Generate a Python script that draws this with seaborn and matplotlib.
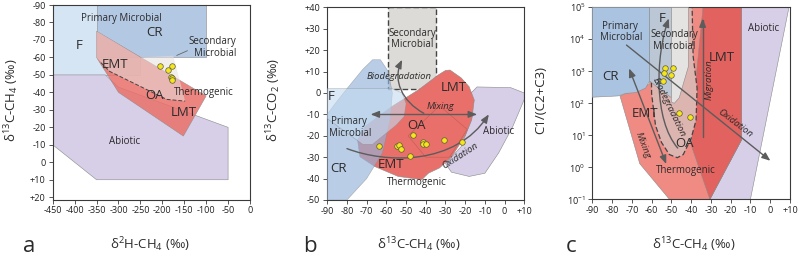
import numpy as np
import pandas as pd
import matplotlib
matplotlib.use('Agg')
import matplotlib.pyplot as plt
from matplotlib.patches import Polygon, FancyArrowPatch
from matplotlib.path import Path
import seaborn as sns

# ---------------- panel a: d2H-CH4 vs d13C-CH4 ----------------
a_dD = [-205, -186, -177, -180, -179, -177]
a_d13C = [-55, -53, -55, -49, -48, -47]

a_F = [(-450, -90), (-250, -90), (-250, -50), (-450, -50)]
a_CR = [(-350, -90), (-100, -90), (-100, -60), (-350, -60)]
a_abiotic = [(-450, -50), (-330, -50), (-300, -43), (-50, -20), (-50, 10), (-350, 10), (-450, -10)]
a_thermo = [(-350, -75), (-100, -38), (-152, -15), (-300, -40), (-350, -60)]
a_OA = [(-350, -75), (-250, -60), (-175, -61), (-148, -35), (-190, -36), (-320, -52), (-350, -60)]
a_OA_dash = [(-340, -57), (-320, -52), (-190, -36), (-148, -35)]

# ---------------- panel b: d13C-CH4 vs d13C-CO2 ----------------
b_ch4 = [-63.8, -54.8, -53.6, -52.4, -46.7, -48.2, -41.5, -41.2, -40.0, -30.6, -21.8]
b_co2 = [-25.0, -24.7, -24.3, -26.2, -19.6, -29.4, -22.8, -23.8, -23.8, -22.0, -22.8]

b_CR = [(-90, -50), (-80, -50), (-70, -40), (-62, -28), (-58, -12), (-57, 0), (-59, 10),
        (-63, 15.5), (-67, 15.5), (-72, 11), (-80, 2), (-86, -5), (-90, -10)]
b_F = [(-90, 2), (-57, 2), (-52, 0), (-50, -5), (-51, -11), (-55, -15), (-67, -24),
       (-72, -24), (-90, -12)]
b_secondary = [(-59, 40), (-35, 40), (-35, 2), (-59, 2)]
b_thermo = [(-27.7, 10.7), (-22, 7), (-18, 2.9), (-15.4, -3.3), (-16.7, -12.6), (-20, -20),
            (-26.9, -29.8), (-33, -35), (-38.7, -37.5), (-42, -40.5), (-54, -39), (-65.8, -34.4),
            (-73.4, -29.8), (-74.6, -22), (-70.9, -15.7), (-57.3, -6.4), (-43.8, 1.4),
            (-33.7, 8.4), (-30, 10.5)]
b_abiotic = [(-30, -33), (-27, -37), (-18, -39), (-10, -37.5), (-3, -28), (4, -16), (10, -3),
             (10, 0), (3, 2.5), (-14, 2.8), (-17, 0), (-16, -10), (-22, -25)]
b_OA = [(-49, -20), (-33, -6), (-19, -17), (-28, -30), (-40, -30)]

# ---------------- panel c: d13C-CH4 vs C1/(C2+C3) ----------------
c_ch4 = [-53.2, -49.3, -53.6, -50.2, -54.0, -46.2, -40.6]
c_ratio = [1230, 1230, 870, 760, 500, 49, 36]

c_CR = [(-90, 1e5), (-61, 1e5), (-61, 500), (-63, 300), (-68, 215), (-73, 205), (-77, 170), (-90, 155)]
c_F = [(-61, 1e5), (-50, 1e5), (-50, 150), (-55, 250), (-61, 500)]
c_secondary = [(-50, 1e5), (-41.4, 1e5), (-41.4, 1400), (-46, 150), (-48.5, 100), (-50, 110)]
c_OA = [(-60.5, 1e5), (-39.5, 1e5), (-39, 3000), (-37, 300), (-37.5, 30), (-40, 8), (-44, 2.5),
        (-47, 2), (-51, 2.5), (-55, 6), (-58, 20), (-60, 200)]
c_thermo = [(-76, 170), (-66, 1.3), (-51, 0.1), (-30.5, 0.1), (-14.6, 7), (-14.6, 1e5), (-61, 1e5), (-61, 400)]
c_LMT = [(-34, 1e5), (-14.6, 1e5), (-14.6, 7), (-30.5, 0.1), (-40, 5), (-38, 300)]
c_abiotic = [(-30.5, 0.1), (-10, 0.1), (9.5, 1e5), (-14.6, 1e5), (-14.6, 7)]

a_xticks = list(range(-450, 1, 50))
a_yticks = list(range(-90, 21, 10))
b_xticks = list(range(-90, 11, 10))
b_yticks = list(range(-50, 41, 10))
c_yticks = [0.1, 1, 10, 100, 1000, 10000, 100000]
c_ytick_labels = ['$10^{-1}$', '$10^{0}$', '$10^{1}$', '$10^{2}$', '$10^{3}$', '$10^{4}$', '$10^{5}$']

sns.set_style('ticks')
plt.rcParams['font.family'] = ['Open Sans', 'DejaVu Sans']
plt.rcParams['mathtext.fontset'] = 'custom'
plt.rcParams['mathtext.rm'] = 'Open Sans'
plt.rcParams['mathtext.it'] = 'Open Sans:italic'

TXT = '#2b2b2b'
ARROW = '#5c5c5c'
EDGE = '#8a8a8a'
BLUE_L = '#d5e5f4'
BLUE_M = '#b3c8e2'
PURPLE = '#d7cee7'
RED = '#e9706a'
SALMON = '#f08b83'
BIG = 9.5
SMALL = 7


def signed(v):
    return '+%d' % v if v > 0 else '%d' % v


def patch(ax, pts, fc, alpha=1.0, ec=EDGE, lw=0.4, ls='-', z=1):
    ax.add_patch(Polygon(pts, closed=True, facecolor=fc, edgecolor=ec, lw=lw,
                         ls=ls, alpha=alpha, zorder=z))


def arrow(ax, pts, both=False):
    codes = [Path.MOVETO] + ([Path.CURVE4] * 3 if len(pts) == 4 else [Path.LINETO])
    style = '<|-|>' if both else '-|>'
    ax.add_patch(FancyArrowPatch(path=Path(pts, codes),
                                 arrowstyle=style + ',head_length=0.5,head_width=0.2',
                                 mutation_scale=10, color=ARROW, lw=1.0, zorder=6))


def lab(ax, x, y, s, size=BIG, **kw):
    ax.text(x, y, s, fontsize=size, color=TXT, ha='center', va='center', zorder=8, **kw)


def frame(ax):
    for sp in ax.spines.values():
        sp.set_visible(True)
        sp.set_color('#3a3a3a')
        sp.set_linewidth(0.8)
    ax.tick_params(direction='out', length=3, width=0.6, color='#3a3a3a',
                   labelsize=6.6, pad=2, labelcolor='#222222')


def dots(ax, x, y):
    sns.scatterplot(x=x, y=y, ax=ax, s=16, color='#f5e51c', edgecolor='#5a5a3a',
                    linewidth=0.5, zorder=10, legend=False)


fig = plt.figure(figsize=(7.99, 2.57), dpi=100)

# ---------------- panel a ----------------
ax = fig.add_axes([0.0660, 0.2237, 0.2469, 0.7568])
patch(ax, a_F, BLUE_L)
patch(ax, a_CR, BLUE_M)
patch(ax, a_abiotic, PURPLE)
patch(ax, a_thermo, RED, alpha=0.85, z=2)
patch(ax, a_OA, '#e6e0de', alpha=0.55, ec='none', z=2.5)
ax.plot([p[0] for p in a_OA_dash], [p[1] for p in a_OA_dash], color='#444444',
        lw=0.7, ls=(0, (4, 2)), zorder=2.6)
dots(ax, a_dD, a_d13C)
ax.annotate('', xy=(-173, -60.5), xytext=(-137, -64.5),
            arrowprops=dict(arrowstyle='-', color='#666666', lw=0.6), zorder=7)
lab(ax, -390, -67, 'F')
lab(ax, -293, -82, 'Primary Microbial', SMALL)
lab(ax, -217, -74, 'CR')
lab(ax, -85, -69, 'Secondary', SMALL)
lab(ax, -80, -62.4, 'Microbial', SMALL)
lab(ax, -308, -56, 'EMT')
lab(ax, -218, -38.5, 'OA')
lab(ax, -106, -40, 'Thermogenic', SMALL)
lab(ax, -152, -28.5, 'LMT')
lab(ax, -287, -12, 'Abiotic', SMALL)
ax.set_xlim(-450, 0)
ax.set_ylim(21.3, -90)
ax.set_xticks(a_xticks)
ax.set_xticklabels([str(v) for v in a_xticks])
ax.set_yticks(a_yticks)
ax.set_yticklabels([signed(v) for v in a_yticks])
ax.set_xlabel('')
ax.set_ylabel('')
frame(ax)

# ---------------- panel b ----------------
ax = fig.add_axes([0.4096, 0.2218, 0.2466, 0.7498])
patch(ax, b_secondary, '#dddbd8', ec='#444444', lw=1.0, ls=(0, (4, 2)), z=1)
patch(ax, b_abiotic, PURPLE)
patch(ax, b_thermo, RED)
patch(ax, b_OA, 'none', ec='#c05a55', lw=0.4, z=2)
patch(ax, b_CR, '#94b3da', alpha=0.65, z=3)
patch(ax, b_F, '#c4dbf1', alpha=0.6, z=3)
dots(ax, b_ch4, b_co2)
arrow(ax, [(-68, -10), (-14, -10)], both=True)
arrow(ax, [(-41, -9.5), (-52, -4), (-57, 6), (-52, 15.5)])
arrow(ax, [(-80, -26), (-60, -33), (-25, -34), (-8, -10)])
lab(ax, -87.8, -1.8, 'F')
lab(ax, -79, -13.4, 'Primary', SMALL)
lab(ax, -78.5, -18.8, 'Microbial', SMALL)
lab(ax, -84.4, -35.2, 'CR')
lab(ax, -46.9, 27.9, 'Secondary', SMALL)
lab(ax, -46.9, 22.4, 'Microbial', SMALL)
lab(ax, -53.5, 7.9, 'Biodegradation', 6.8, style='italic')
lab(ax, -26, 2.6, 'LMT')
lab(ax, -32.5, -6.4, 'Mixing', 6.8, style='italic')
lab(ax, -44.7, -15, 'OA')
lab(ax, -57.4, -33.6, 'EMT')
lab(ax, -44.7, -41.9, 'Thermogenic', SMALL)
lab(ax, -3.2, -18.1, 'Abiotic', SMALL)
lab(ax, -22.6, -29.4, 'Oxidation', 6.8, style='italic', rotation=33)
ax.set_xlim(-90, 10)
ax.set_ylim(-50, 40)
ax.set_xticks(b_xticks)
ax.set_xticklabels([signed(v) for v in b_xticks])
ax.set_yticks(b_yticks)
ax.set_yticklabels([signed(v) for v in b_yticks])
ax.set_xlabel('')
ax.set_ylabel('')
frame(ax)

# ---------------- panel c ----------------
ax = fig.add_axes([0.7413, 0.2245, 0.2474, 0.7471])
ax.set_yscale('log')
patch(ax, c_abiotic, PURPLE)
patch(ax, c_thermo, SALMON)
patch(ax, c_LMT, '#e1625e', z=1.5)
patch(ax, c_OA, '#dcb4b0', ec='#444444', lw=0.9, ls=(0, (4, 2)), z=2)
patch(ax, c_F, '#bcc7d5', z=3)
patch(ax, c_secondary, '#e4e3e2', z=3)
patch(ax, c_CR, '#aac3e1', z=3)
dots(ax, c_ch4, c_ratio)
arrow(ax, [(-71.4, 1230), (-52.6, 1.27)], both=True)
arrow(ax, [(-46.8, 4), (-59, 30), (-58, 3000), (-51.3, 45000)])
arrow(ax, [(-34.2, 9), (-34.2, 45000)])
arrow(ax, [(-72.7, 6600), (0.1, 1.6)])
lab(ax, -76, 26000, 'Primary', SMALL)
lab(ax, -75.3, 11000, 'Microbial', SMALL)
lab(ax, -81, 700, 'CR')
lab(ax, -54.8, 44000, 'F')
lab(ax, -48.5, 14000, 'Secondary', SMALL)
lab(ax, -48.5, 5900, 'Microbial', SMALL)
lab(ax, -24.5, 2740, 'LMT')
lab(ax, -63.5, 49, 'EMT')
lab(ax, -43.4, 5.4, 'OA')
lab(ax, -42.6, 0.8, 'Thermogenic', SMALL)
lab(ax, -3.2, 22000, 'Abiotic', SMALL)
lab(ax, -64.4, 5.0, 'Mixing', 6.8, style='italic', rotation=-69)
lab(ax, -51.5, 75, 'Biodegradation', 6.8, style='italic', rotation=-64)
lab(ax, -30.9, 537, 'Migration', 6.8, style='italic', rotation=90)
lab(ax, -17.8, 23.7, 'Oxidation', 6.8, style='italic', rotation=-37)
ax.set_xlim(-90, 10)
ax.set_ylim(0.1, 1e5)
ax.set_xticks(b_xticks)
ax.set_xticklabels([signed(v) for v in b_xticks])
ax.set_yticks(c_yticks)
ax.set_yticklabels(c_ytick_labels)
ax.minorticks_off()
ax.set_xlabel('')
ax.set_ylabel('')
frame(ax)

# axis titles and panel letters
W, H = 799.0, 257.0


def ftext(x, y, s, size, **kw):
    fig.text(x / W, 1 - y / H, s, fontsize=size, color=TXT, ha='center', va='center', **kw)


ftext(12, 100, 'δ$^{13}$C-CH$_4$ (‰)', 9.5, rotation=90)
ftext(150, 245, 'δ$^{2}$H-CH$_4$ (‰)', 9.5)
ftext(29, 247, 'a', 16)
ftext(274, 100, 'δ$^{13}$C-CO$_2$ (‰)', 9.5, rotation=90)
ftext(419, 245, 'δ$^{13}$C-CH$_4$ (‰)', 9.5)
ftext(310, 247, 'b', 16)
ftext(541, 100, 'C1/(C2+C3)', 9.5, rotation=90)
ftext(694, 245, 'δ$^{13}$C-CH$_4$ (‰)', 9.5)
ftext(571, 247, 'c', 16)

fig.savefig('out.png', dpi=100)
